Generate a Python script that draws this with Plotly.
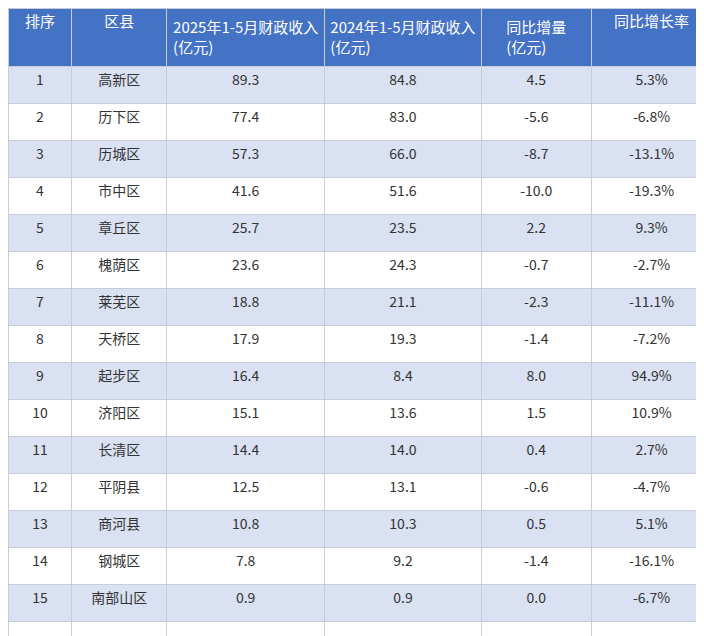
import plotly.graph_objects as go

headers = ["排序", "区县", "2025年1-5月财政收入<br>(亿元)", "2024年1-5月财政收入<br>(亿元)", "同比增量<br>(亿元)", "同比增长率"]
rank = [str(i) for i in range(1, 16)] + [""]
county = ["高新区","历下区","历城区","市中区","章丘区","槐荫区","莱芜区","天桥区","起步区","济阳区","长清区","平阴县","商河县","钢城区","南部山区",""]
rev2025 = ["89.3","77.4","57.3","41.6","25.7","23.6","18.8","17.9","16.4","15.1","14.4","12.5","10.8","7.8","0.9",""]
rev2024 = ["84.8","83.0","66.0","51.6","23.5","24.3","21.1","19.3","8.4","13.6","14.0","13.1","10.3","9.2","0.9",""]
delta = ["4.5","-5.6","-8.7","-10.0","2.2","-0.7","-2.3","-1.4","8.0","1.5","0.4","-0.6","0.5","-1.4","0.0",""]
growth = ["5.3%","-6.8%","-13.1%","-19.3%","9.3%","-2.7%","-11.1%","-7.2%","94.9%","10.9%","2.7%","-4.7%","5.1%","-16.1%","-6.7%",""]

n = len(rank)
fill = ["#D9E1F2" if i % 2 == 0 else "#FFFFFF" for i in range(n)]

fig = go.Figure(go.Table(
    columnwidth=[64, 95, 158, 157, 110, 121],
    header=dict(values=headers, fill_color="#4472C4", align="center",
                font=dict(color="white", size=15, family="Noto Sans CJK SC"),
                height=58, line=dict(color="#C5CDDB", width=1)),
    cells=dict(values=[rank, county, rev2025, rev2024, delta, growth],
               fill_color=[fill]*6, align="center",
               font=dict(color="#333333", size=14, family="Noto Sans CJK SC"),
               height=37, line=dict(color="#C5CDDB", width=1)),
    domain=dict(x=[0, 1], y=[0, 1]),
))
fig.update_layout(width=704, height=636, margin=dict(l=0, r=0, t=0, b=0),
                  paper_bgcolor="white")
fig.write_html("out.html")
